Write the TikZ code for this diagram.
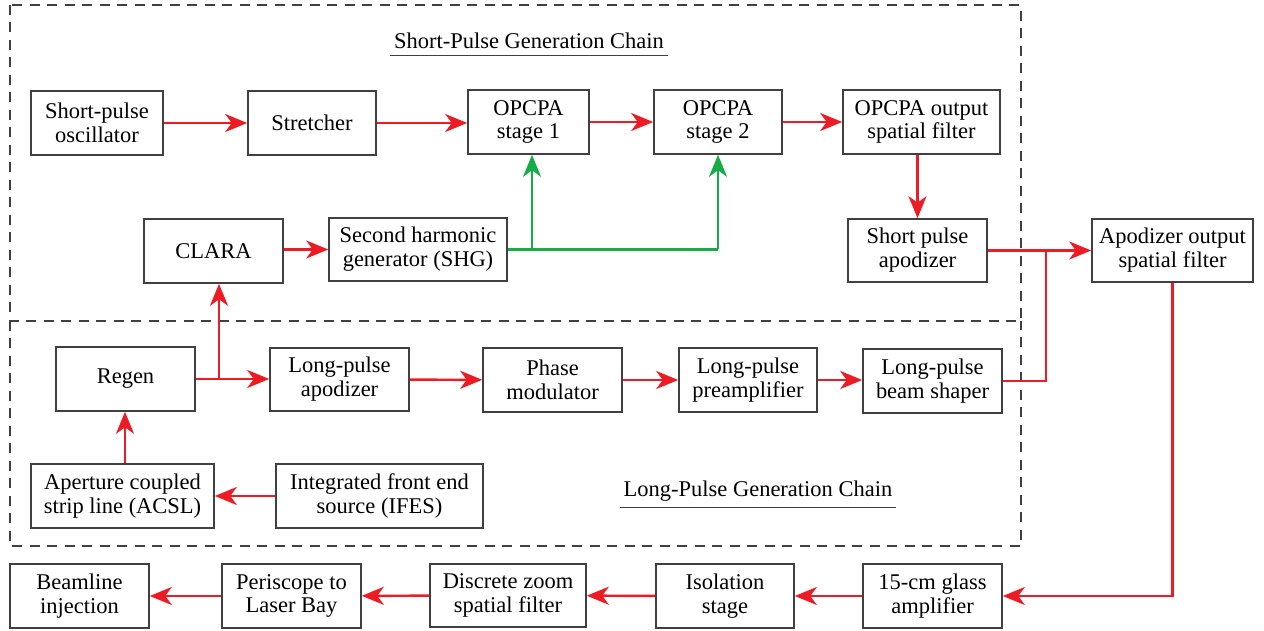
\documentclass[tikz,border=0pt]{standalone}
\usepackage{fontspec}
\setmainfont{Liberation Serif}
\usetikzlibrary{arrows.meta}
\definecolor{beamred}{RGB}{237,28,36}
\definecolor{pumpgreen}{RGB}{22,172,72}
\definecolor{boxgray}{RGB}{64,64,64}
\tikzset{
  blk/.style={draw=boxgray, line width=0.9pt, fill=white, inner sep=1pt,
    align=center, font=\fontsize{12.8}{13.6}\selectfont},
  tip/.style={-{Stealth[length=0.44cm,width=0.36cm,inset=0.13cm]}},
  redline/.style={draw=beamred, line width=1.4pt},
  redarrow/.style={redline, tip},
  grnline/.style={draw=pumpgreen, line width=1.4pt},
  grnarrow/.style={grnline, tip},
  chainbox/.style={draw=boxgray, line width=0.7pt, dash pattern=on 0.2cm off 0.15cm},
  chaintitle/.style={font=\fontsize{12.8}{13.6}\selectfont, inner xsep=0.07cm, inner ysep=0.12cm},
}
% block: name, centre x, centre y, width, height (all in px units), text
\newcommand\blk[6]{\node[blk, minimum width={#4*0.02cm}, minimum height={#5*0.02cm}] (#1) at (#2,#3) {#6};}
\begin{document}
\begin{tikzpicture}[x=0.02cm, y=-0.02cm]
\useasboundingbox (0,0) rectangle (1264,631);

% chain enclosures
\draw[chainbox] (10,5) rectangle (1021,321);
\draw[chainbox] (10,321) -- (10,546) -- (1021,546) -- (1021,321);

% chain titles
\node[chaintitle] (sptitle) at (529,41) {Short-Pulse Generation Chain};
\draw[boxgray, line width=0.6pt] (sptitle.south west) -- (sptitle.south east);
\node[chaintitle] (lptitle) at (758,491) {Long-Pulse Generation Chain};
\draw[boxgray, line width=0.6pt] (lptitle.south west) -- (lptitle.south east);

% short-pulse chain
\blk{osc}{97}{123}{132}{64}{Short-pulse\\oscillator}
\blk{str}{312}{123}{128}{64}{Stretcher}
\blk{op1}{528.5}{122}{121}{64}{OPCPA\\stage 1}
\blk{op2}{718}{122}{128}{64}{OPCPA\\stage 2}
\blk{osf}{921.5}{122}{157}{64}{OPCPA output\\spatial filter}
\blk{spa}{917.5}{250.5}{139}{63}{Short pulse\\apodizer}
\blk{aosf}{1172.5}{250.5}{161}{63}{Apodizer output\\spatial filter}
\blk{clara}{213.5}{251}{139}{64}{CLARA}
\blk{shg}{418}{249.5}{178}{63}{Second harmonic\\generator (SHG)}

% long-pulse chain
\blk{regen}{125.5}{379}{139}{64}{Regen}
\blk{lpa}{339.5}{379.5}{139}{63}{Long-pulse\\apodizer}
\blk{pm}{552.5}{380}{139}{64}{Phase\\modulator}
\blk{lpp}{748}{380}{138}{64}{Long-pulse\\preamplifier}
\blk{lpbs}{932.5}{381}{139}{64}{Long-pulse\\beam shaper}
\blk{acsl}{122.5}{496}{183}{64}{Aperture coupled\\strip line (ACSL)}
\blk{ifes}{379.5}{496}{207}{64}{Integrated front end\\source (IFES)}

% output line
\blk{bl}{79.5}{596}{139}{64}{Beamline\\injection}
\blk{per}{291.5}{596}{139}{64}{Periscope to\\Laser Bay}
\blk{dz}{508}{595.5}{156}{63}{Discrete zoom\\spatial filter}
\blk{iso}{725}{596}{138}{64}{Isolation\\stage}
\blk{amp}{932.5}{596}{139}{64}{15-cm glass\\amplifier}

% short-pulse beam path
\draw[redarrow] (osc) -- (str);
\draw[redarrow] (str) -- (op1.west |- str.east);
\draw[redarrow] (op1) -- (op2);
\draw[redarrow] (op2) -- (osf);
\draw[redarrow] (osf.south -| spa.north) -- (spa.north);

% pump path
\draw[redarrow] (clara.east |- shg.east) -- (shg.west);
\coordinate (g1) at (532,249.5);
\draw[grnline] (shg.east) -- (op2.south |- shg.east);
\draw[grnarrow] (op2.south |- shg.east) -- (op2.south);
\draw[grnarrow] (g1) -- (g1 |- op1.south);

% long-pulse beam path
\coordinate (j1) at (219,379);
\draw[redarrow] (regen.east) -- (lpa.west |- regen.east);
\draw[redarrow] (j1) -- (j1 |- clara.south);
\draw[redarrow] (lpa) -- (pm);
\draw[redarrow] (pm) -- (lpp);
\draw[redarrow] (lpp.east) -- (lpbs.west |- lpp.east);
\draw[redarrow] (ifes) -- (acsl);
\draw[redarrow] (acsl.north -| 125,0) -- (regen.south -| 125,0);

% merge into the apodizer output spatial filter
\coordinate (j3) at (1046,250.5);
\draw[redarrow] (spa) -- (aosf);
\draw[redline] (lpbs.east) -| (j3);

% down to the output line
\draw[redarrow] (aosf.south) |- (amp.east);
\draw[redarrow] (amp) -- (iso);
\draw[redarrow] (iso) -- (dz);
\draw[redarrow] (dz) -- (per);
\draw[redarrow] (per) -- (bl);
\end{tikzpicture}
\end{document}
